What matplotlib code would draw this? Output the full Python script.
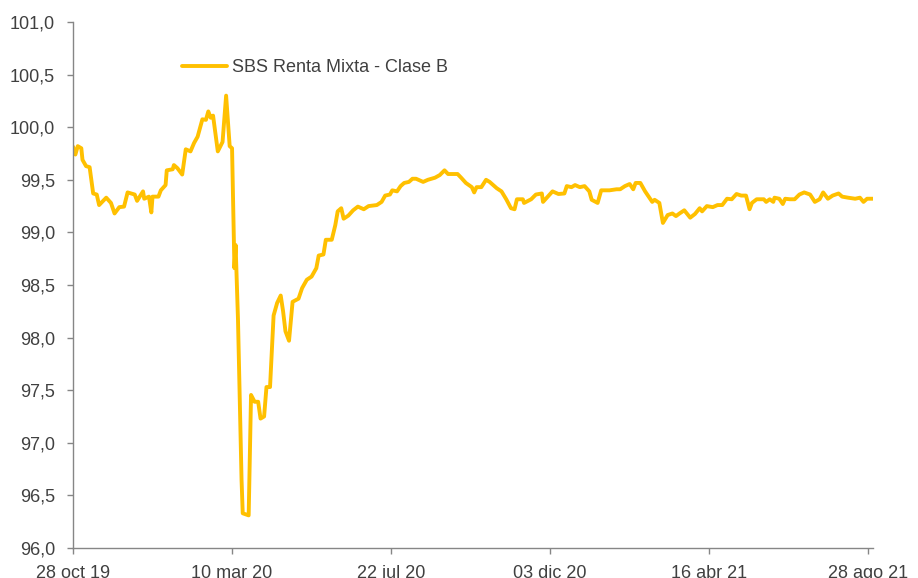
import matplotlib
matplotlib.use("Agg")
import matplotlib.pyplot as plt
import matplotlib.dates as mdates
import pandas as pd

plt.rcParams['font.family'] = ['Liberation Sans', 'DejaVu Sans']

series_name = "SBS Renta Mixta - Clase B"

dates = [
    "2019-10-28", "2019-10-30", "2019-11-01", "2019-11-04", "2019-11-05", "2019-11-08",
    "2019-11-11", "2019-11-14", "2019-11-17", "2019-11-19", "2019-11-25", "2019-11-29",
    "2019-12-02", "2019-12-06", "2019-12-10", "2019-12-13", "2019-12-19", "2019-12-21",
    "2019-12-26", "2019-12-27", "2019-12-31", "2020-01-02", "2020-01-03", "2020-01-08",
    "2020-01-10", "2020-01-14", "2020-01-15", "2020-01-20", "2020-01-21", "2020-01-24",
    "2020-01-28", "2020-01-31", "2020-02-04", "2020-02-07", "2020-02-10", "2020-02-14",
    "2020-02-17", "2020-02-19", "2020-02-21", "2020-02-23", "2020-02-27", "2020-03-02",
    "2020-03-05", "2020-03-08", "2020-03-10", "2020-03-12", "2020-03-13", "2020-03-15",
    "2020-03-18", "2020-03-19", "2020-03-24", "2020-03-26", "2020-03-29", "2020-04-01",
    "2020-04-03", "2020-04-06", "2020-04-08", "2020-04-11", "2020-04-14", "2020-04-17",
    "2020-04-20", "2020-04-22", "2020-04-24", "2020-04-27", "2020-04-30", "2020-05-05",
    "2020-05-08", "2020-05-12", "2020-05-16", "2020-05-20", "2020-05-22", "2020-05-26",
    "2020-05-28", "2020-06-02", "2020-06-05", "2020-06-07", "2020-06-10", "2020-06-12",
    "2020-06-16", "2020-06-20", "2020-06-24", "2020-06-29", "2020-07-03", "2020-07-10",
    "2020-07-14", "2020-07-17", "2020-07-21", "2020-07-23", "2020-07-27", "2020-07-30",
    "2020-08-02", "2020-08-06", "2020-08-09", "2020-08-12", "2020-08-18", "2020-08-22",
    "2020-08-28", "2020-09-01", "2020-09-05", "2020-09-08", "2020-09-12", "2020-09-16",
    "2020-09-19", "2020-09-23", "2020-09-28", "2020-09-30", "2020-10-02", "2020-10-06",
    "2020-10-10", "2020-10-13", "2020-10-19", "2020-10-23", "2020-10-27", "2020-10-31",
    "2020-11-03", "2020-11-05", "2020-11-10", "2020-11-11", "2020-11-17", "2020-11-21",
    "2020-11-26", "2020-11-27", "2020-12-01", "2020-12-05", "2020-12-10", "2020-12-15",
    "2020-12-17", "2020-12-21", "2020-12-24", "2020-12-28", "2021-01-01", "2021-01-05",
    "2021-01-07", "2021-01-12", "2021-01-15", "2021-01-22", "2021-01-28", "2021-01-31",
    "2021-02-04", "2021-02-08", "2021-02-11", "2021-02-13", "2021-02-17", "2021-02-21",
    "2021-02-24", "2021-02-27", "2021-03-01", "2021-03-05", "2021-03-08", "2021-03-12",
    "2021-03-16", "2021-03-19", "2021-03-22", "2021-03-26", "2021-03-31", "2021-04-04",
    "2021-04-08", "2021-04-10", "2021-04-14", "2021-04-19", "2021-04-23", "2021-04-27",
    "2021-05-01", "2021-05-05", "2021-05-09", "2021-05-13", "2021-05-17", "2021-05-20",
    "2021-05-22", "2021-05-26", "2021-06-01", "2021-06-03", "2021-06-06", "2021-06-09",
    "2021-06-10", "2021-06-14", "2021-06-17", "2021-06-19", "2021-06-23", "2021-06-27",
    "2021-07-01", "2021-07-05", "2021-07-10", "2021-07-14", "2021-07-18", "2021-07-21",
    "2021-07-25", "2021-07-29", "2021-08-03", "2021-08-06", "2021-08-11", "2021-08-17",
    "2021-08-21", "2021-08-24", "2021-08-27", "2021-09-01",
]

values = [
    99.815, 99.74, 99.82, 99.80, 99.69, 99.63,
    99.62, 99.37, 99.36, 99.26, 99.33, 99.28,
    99.18, 99.24, 99.245, 99.38, 99.36, 99.30,
    99.39, 99.32, 99.34, 99.19, 99.34, 99.34,
    99.40, 99.45, 99.59, 99.60, 99.64, 99.61,
    99.55, 99.79, 99.77, 99.85, 99.91, 100.075,
    100.07, 100.15, 100.09, 100.11, 99.77, 99.86,
    100.30, 99.82, 99.80, 98.66, 98.88, 98.17,
    96.65, 96.33, 96.31, 97.455, 97.39, 97.39,
    97.23, 97.25, 97.53, 97.53, 98.21, 98.33,
    98.40, 98.25, 98.06, 97.97, 98.34, 98.37,
    98.47, 98.55, 98.58, 98.66, 98.78, 98.79,
    98.93, 98.93, 99.07, 99.20, 99.23, 99.13,
    99.16, 99.21, 99.245, 99.22, 99.25, 99.26,
    99.29, 99.35, 99.36, 99.40, 99.39, 99.44,
    99.47, 99.48, 99.51, 99.51, 99.48, 99.50,
    99.52, 99.545, 99.59, 99.555, 99.555, 99.555,
    99.52, 99.47, 99.43, 99.38, 99.43, 99.43,
    99.50, 99.48, 99.42, 99.39, 99.315, 99.23,
    99.22, 99.315, 99.315, 99.28, 99.315, 99.36,
    99.37, 99.29, 99.34, 99.39, 99.365, 99.37,
    99.44, 99.43, 99.45, 99.43, 99.44, 99.39,
    99.31, 99.28, 99.40, 99.40, 99.41, 99.41,
    99.44, 99.46, 99.41, 99.47, 99.47, 99.39,
    99.34, 99.29, 99.31, 99.28, 99.09, 99.165,
    99.18, 99.155, 99.18, 99.21, 99.14, 99.175,
    99.23, 99.20, 99.25, 99.24, 99.26, 99.26,
    99.32, 99.315, 99.365, 99.35, 99.35, 99.22,
    99.28, 99.315, 99.315, 99.29, 99.315, 99.29,
    99.33, 99.32, 99.27, 99.32, 99.315, 99.315,
    99.36, 99.38, 99.36, 99.29, 99.315, 99.38,
    99.32, 99.35, 99.37, 99.34, 99.33, 99.32,
    99.33, 99.29, 99.32, 99.32,
]

x_ticks = ["2019-10-28", "2020-03-10", "2020-07-22", "2020-12-03", "2021-04-16", "2021-08-28"]
x_tick_labels = ["28 oct 19", "10 mar 20", "22 jul 20", "03 dic 20", "16 abr 21", "28 ago 21"]
y_ticks = [96.0, 96.5, 97.0, 97.5, 98.0, 98.5, 99.0, 99.5, 100.0, 100.5, 101.0]
y_tick_labels = ["96,0", "96,5", "97,0", "97,5", "98,0", "98,5", "99,0", "99,5", "100,0", "100,5", "101,0"]

text_color = "#404040"
axis_color = "#868686"
line_color = "#FFC000"

fig = plt.figure(figsize=(9.18, 5.78), dpi=100)
ax = fig.add_axes([73 / 918, 30 / 578, 800 / 918, 526 / 578])

x = pd.to_datetime(dates)
ax.plot(x, values, color=line_color, lw=2.8, solid_joinstyle="round",
        solid_capstyle="round", label=series_name)

ax.set_xlim(pd.Timestamp("2019-10-28"), pd.Timestamp("2021-09-01"))
ax.set_ylim(96.0, 101.0)
ax.set_xticks(pd.to_datetime(x_ticks))
ax.set_xticklabels(x_tick_labels)
ax.set_yticks(y_ticks)
ax.set_yticklabels(y_tick_labels)

for s in ["top", "right"]:
    ax.spines[s].set_visible(False)
for s in ["left", "bottom"]:
    ax.spines[s].set_color(axis_color)
    ax.spines[s].set_linewidth(1.0)

ax.tick_params(axis="both", colors=axis_color, labelcolor=text_color, labelsize=13,
               length=4, width=1.0, direction="out")
ax.tick_params(axis="y", pad=9)
ax.tick_params(axis="x", pad=8)

leg = ax.legend(loc="center left", bbox_to_anchor=(109 / 800, (548 - 68) / 526),
                frameon=False, fontsize=13, handlelength=2.5, handletextpad=0.25,
                borderpad=0, borderaxespad=0)
for t in leg.get_texts():
    t.set_color(text_color)

fig.savefig("out.png", dpi=100, facecolor="white")
